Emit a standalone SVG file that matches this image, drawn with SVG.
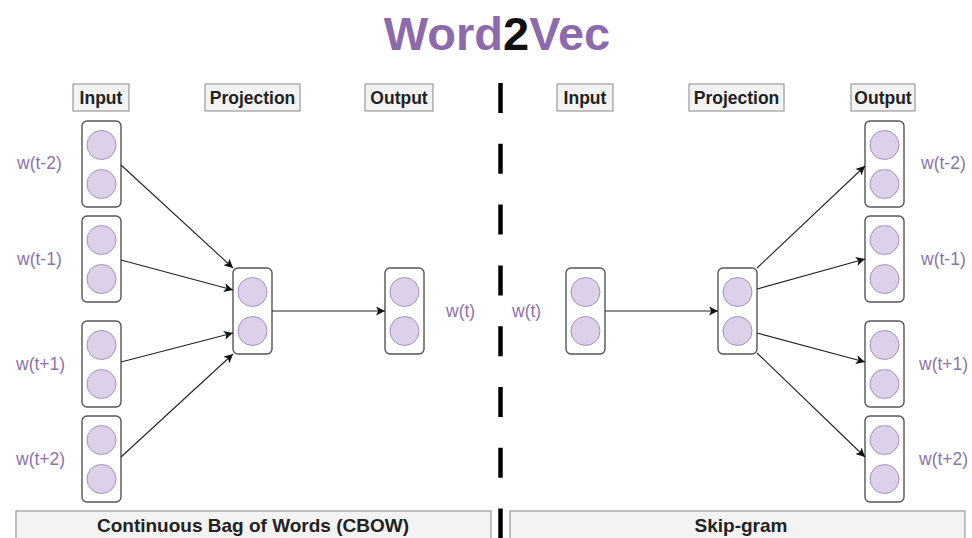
<svg xmlns="http://www.w3.org/2000/svg" width="972" height="538" viewBox="0 0 972 538">
<style>
  .title{font-family:"Liberation Sans",Arial,sans-serif;font-weight:bold;font-size:47px;fill:#8d6aab}
  .hdr rect{fill:#f3f3f3;stroke:#9a9a9a;stroke-width:1.2}
  .hdr text{font-family:"Liberation Sans",Arial,sans-serif;font-weight:bold;font-size:17.5px;fill:#222;text-anchor:middle}
  .box{fill:#fff;stroke:#555;stroke-width:1.4}
  .dot{fill:#ddd1ea;stroke:#a590c0;stroke-width:1}
  .lbl{font-family:"Liberation Sans",Arial,sans-serif;font-size:17.5px;fill:#8e72ad}
  .edge{stroke:#222;stroke-width:1.1;fill:none;marker-end:url(#arr)}
  .bar rect{fill:#f3f3f3;stroke:#9a9a9a;stroke-width:1.2}
  .bar text{font-family:"Liberation Sans",Arial,sans-serif;font-weight:bold;font-size:19px;fill:#222;text-anchor:middle}
</style>
<defs>
  <marker id="arr" viewBox="0 0 10 10" refX="10" refY="5" markerWidth="9" markerHeight="9" markerUnits="userSpaceOnUse" orient="auto">
    <path d="M0,0 L10,5 L0,10 L2.5,5 Z" fill="#111"/>
  </marker>
  <g id="nd">
    <rect class="box" x="0" y="0" width="39" height="86" rx="5"/>
    <circle class="dot" cx="19.5" cy="24" r="14.5"/>
    <circle class="dot" cx="19.5" cy="63" r="14.5"/>
  </g>
</defs>
<rect width="972" height="538" fill="#fff"/>
<text class="title" x="497" y="50" text-anchor="middle">Word<tspan fill="#111">2</tspan>Vec</text>

<!-- divider -->
<line x1="500.5" y1="83" x2="500.5" y2="538" stroke="#000" stroke-width="4.5" stroke-dasharray="30 30.8"/>

<!-- headers -->
<g id="hdr-cbow-input" class="hdr"><rect x="73" y="84" width="56" height="27"/><text x="101" y="104">Input</text></g>
<g id="hdr-cbow-proj" class="hdr"><rect x="205" y="84" width="95" height="27"/><text x="252.5" y="104">Projection</text></g>
<g id="hdr-cbow-out" class="hdr"><rect x="365" y="84" width="68" height="27"/><text x="399" y="104">Output</text></g>
<g id="hdr-sg-input" class="hdr"><rect x="557" y="84" width="56" height="27"/><text x="585" y="104">Input</text></g>
<g id="hdr-sg-proj" class="hdr"><rect x="689" y="84" width="95" height="27"/><text x="736.5" y="104">Projection</text></g>
<g id="hdr-sg-out" class="hdr"><rect x="851" y="84" width="64" height="27"/><text x="883" y="104">Output</text></g>

<!-- CBOW nodes -->
<g id="cbow-in1"><use href="#nd" x="82" y="121"/><text class="lbl" x="17" y="169">w(t-2)</text></g>
<g id="cbow-in2"><use href="#nd" x="82" y="216"/><text class="lbl" x="17" y="265">w(t-1)</text></g>
<g id="cbow-in3"><use href="#nd" x="82" y="321"/><text class="lbl" x="16" y="370">w(t+1)</text></g>
<g id="cbow-in4"><use href="#nd" x="82" y="416"/><text class="lbl" x="16" y="465">w(t+2)</text></g>
<g id="cbow-proj"><use href="#nd" x="233" y="268"/></g>
<g id="cbow-out"><use href="#nd" x="385" y="268"/><text class="lbl" x="446" y="317">w(t)</text></g>

<!-- Skip-gram nodes -->
<g id="sg-in"><use href="#nd" x="566" y="268"/><text class="lbl" x="512" y="317">w(t)</text></g>
<g id="sg-proj"><use href="#nd" x="718" y="268"/></g>
<g id="sg-out1"><use href="#nd" x="865" y="121"/><text class="lbl" x="921" y="169">w(t-2)</text></g>
<g id="sg-out2"><use href="#nd" x="865" y="216"/><text class="lbl" x="921" y="265">w(t-1)</text></g>
<g id="sg-out3"><use href="#nd" x="865" y="321"/><text class="lbl" x="919" y="370">w(t+1)</text></g>
<g id="sg-out4"><use href="#nd" x="865" y="416"/><text class="lbl" x="919" y="465">w(t+2)</text></g>

<!-- connectors -->
<g id="connectors">
  <line class="edge" x1="121" y1="165" x2="233" y2="268"/>
  <line class="edge" x1="121" y1="260" x2="233" y2="290"/>
  <line class="edge" x1="121" y1="362" x2="233" y2="333"/>
  <line class="edge" x1="121" y1="457" x2="233" y2="354"/>
  <line class="edge" x1="272" y1="311" x2="385" y2="311"/>
  <line class="edge" x1="605" y1="311" x2="718" y2="311"/>
  <line class="edge" x1="757" y1="268" x2="865" y2="166"/>
  <line class="edge" x1="757" y1="289" x2="865" y2="259"/>
  <line class="edge" x1="757" y1="333" x2="865" y2="362"/>
  <line class="edge" x1="757" y1="353" x2="865" y2="457"/>
</g>

<!-- bottom bars -->
<g id="bar-cbow" class="bar"><rect x="16" y="511" width="475" height="32"/><text x="253" y="532">Continuous Bag of Words (CBOW)</text></g>
<g id="bar-sg" class="bar"><rect x="510" y="511" width="455" height="32"/><text x="741" y="532">Skip-gram</text></g>
</svg>
